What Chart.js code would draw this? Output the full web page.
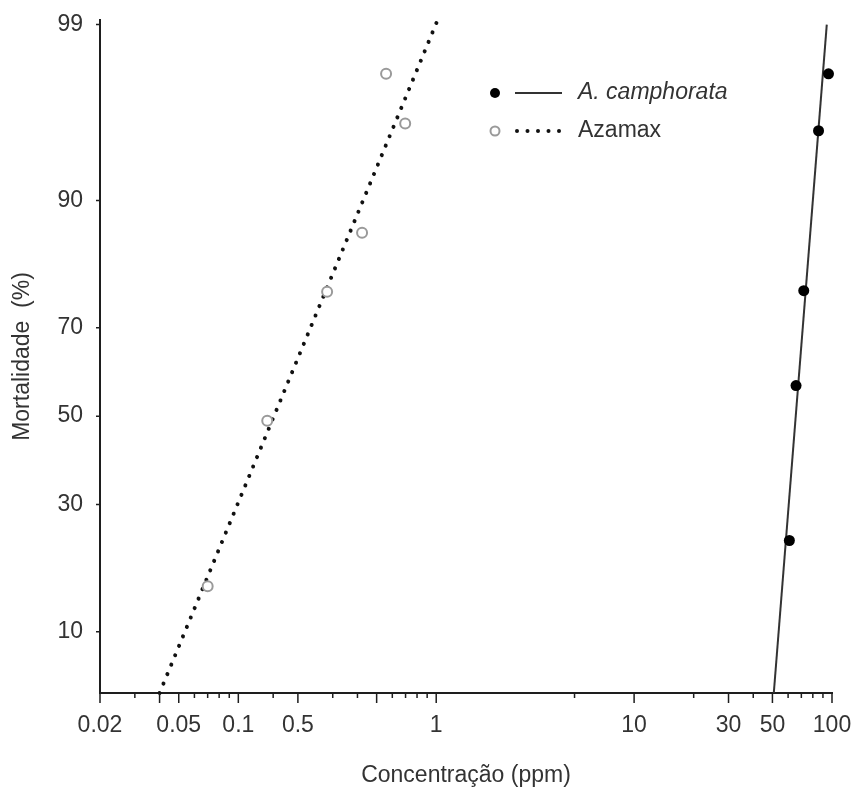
<!DOCTYPE html>
<html>
<head>
<meta charset="utf-8">
<script src="https://cdn.jsdelivr.net/npm/chart.js@4.4.1/dist/chart.umd.min.js"></script>
<style>
  html, body { margin: 0; padding: 0; background: #ffffff; }
  #wrap { width: 855px; height: 792px; }
</style>
</head>
<body>
<div id="wrap"><canvas id="c" width="855" height="792"></canvas></div>
<script>
// ---- data ----
const seriesNames = ['A. camphorata', 'Azamax'];

const camphorataConc = [60.9, 65.8, 72.0, 85.5, 96.0];       // ppm
const camphorataMort = [23.0, 57.2, 77.2, 95.5, 97.9];       // %
const camphorataFitConc = [50.8, 94.1];
const camphorataFitMort = [5, 99];

const azamaxConc = [0.070, 0.140, 0.281, 0.422, 0.558, 0.697]; // ppm
const azamaxMort = [15.6, 48.9, 77.0, 86.2, 97.9, 95.9];       // %
const azamaxFitConc = [0.040, 1.01];
const azamaxFitMort = [5, 99.05];

// axis ticks
const xTickValues = [0.02, 0.05, 0.1, 0.2, 1, 10, 30, 50, 100];
const xTickLabels = ['0.02', '0.05', '0.1', '0.5', '1', '10', '30', '50', '100'];
const xMajorMarks = [0.02, 0.04, 0.05, 0.1, 0.2, 0.5, 1, 10, 30, 50, 100];
const xMinorMarks = [0.03, 0.06, 0.07, 0.08, 0.09, 0.15, 0.3, 0.4, 0.6, 0.7, 0.8, 0.9, 5, 20, 40, 60, 70, 80, 90];
const yTickPct = [10, 30, 50, 70, 90, 99];
const yTickLabels = ['10', '30', '50', '70', '90', '99'];
const xRange = [0.02, 100];
const yRangePct = [5, 99.07];

// ---- probit transform (inverse normal CDF) ----
function probit(pct) {
  const p = pct / 100;
  const a = [-3.969683028665376e+01, 2.209460984245205e+02, -2.759285104469687e+02, 1.383577518672690e+02, -3.066479806614716e+01, 2.506628277459239e+00];
  const b = [-5.447609879822406e+01, 1.615858368580409e+02, -1.556989798598866e+02, 6.680131188771972e+01, -1.328068155288572e+01];
  const c = [-7.784894002430293e-03, -3.223964580411365e-01, -2.400758277161838e+00, -2.549671055224493e+00, 4.374664141464968e+00, 2.938163982698783e+00];
  const d = [7.784695709041462e-03, 3.224671290700398e-01, 2.445134137142996e+00, 3.754408661907416e+00];
  const plow = 0.02425, phigh = 1 - plow;
  let q, r;
  if (p < plow) {
    q = Math.sqrt(-2 * Math.log(p));
    return (((((c[0]*q+c[1])*q+c[2])*q+c[3])*q+c[4])*q+c[5]) / ((((d[0]*q+d[1])*q+d[2])*q+d[3])*q+1);
  } else if (p <= phigh) {
    q = p - 0.5; r = q*q;
    return (((((a[0]*r+a[1])*r+a[2])*r+a[3])*r+a[4])*r+a[5])*q / (((((b[0]*r+b[1])*r+b[2])*r+b[3])*r+b[4])*r+1);
  } else {
    q = Math.sqrt(-2 * Math.log(1 - p));
    return -(((((c[0]*q+c[1])*q+c[2])*q+c[3])*q+c[4])*q+c[5]) / ((((d[0]*q+d[1])*q+d[2])*q+d[3])*q+1);
  }
}
const toPts = (xs, ys) => xs.map((x, i) => ({ x: x, y: probit(ys[i]) }));

const FONT = 'Liberation Sans, Arial, Helvetica, sans-serif';
const TEXT = '#333333';
const AXIS = '#1e1e1e';

function clearPad(s) { s.paddingLeft = 0; s.paddingRight = 0; s.paddingTop = 0; s.paddingBottom = 0; }

// ---- plugin: tick marks and in-plot legend ----
const decorPlugin = {
  id: 'decor',
  afterDraw(chart) {
    const ctx = chart.ctx;
    const xs = chart.scales.x, ys = chart.scales.y;
    const axisY = chart.chartArea.bottom;
    const axisX = chart.chartArea.left;
    ctx.save();
    ctx.strokeStyle = AXIS;
    ctx.lineWidth = 1.5;
    ctx.beginPath();
    xMajorMarks.forEach(v => { const p = xs.getPixelForValue(v); ctx.moveTo(p, axisY); ctx.lineTo(p, axisY + 10); });
    xMinorMarks.forEach(v => { const p = xs.getPixelForValue(v); ctx.moveTo(p, axisY); ctx.lineTo(p, axisY + 5); });
    yTickPct.forEach(v => { const p = ys.getPixelForValue(probit(v)); ctx.moveTo(axisX - 4, p); ctx.lineTo(axisX, p); });
    ctx.stroke();

    // legend
    const lx = 495, y1 = 93, y2 = 131;
    ctx.fillStyle = '#000';
    ctx.beginPath(); ctx.arc(lx, y1, 5, 0, Math.PI * 2); ctx.fill();
    ctx.strokeStyle = '#333'; ctx.lineWidth = 2;
    ctx.beginPath(); ctx.moveTo(515, y1); ctx.lineTo(562, y1); ctx.stroke();
    ctx.fillStyle = '#fff'; ctx.strokeStyle = '#9a9a9a'; ctx.lineWidth = 2;
    ctx.beginPath(); ctx.arc(lx, y2, 4.5, 0, Math.PI * 2); ctx.fill(); ctx.stroke();
    ctx.fillStyle = '#111';
    for (let k = 0; k < 5; k++) { ctx.beginPath(); ctx.arc(517 + k * 10.5, y2, 2, 0, Math.PI * 2); ctx.fill(); }
    ctx.fillStyle = TEXT;
    ctx.textBaseline = 'middle';
    ctx.textAlign = 'left';
    ctx.font = 'italic 23px ' + FONT;
    ctx.fillText(seriesNames[0], 578, y1);
    ctx.font = '23px ' + FONT;
    ctx.fillText(seriesNames[1], 578, y2);
    ctx.restore();
  }
};

new Chart(document.getElementById('c'), {
  type: 'scatter',
  data: {
    datasets: [
      {
        label: seriesNames[1] + ' fit', type: 'line', data: toPts(azamaxFitConc, azamaxFitMort),
        borderColor: '#111', borderWidth: 4, borderDash: [0.01, 10.2], borderCapStyle: 'round',
        pointRadius: 0, fill: false, tension: 0, order: 3, clip: false
      },
      {
        label: seriesNames[0] + ' fit', type: 'line', data: toPts(camphorataFitConc, camphorataFitMort),
        borderColor: '#333', borderWidth: 2, pointRadius: 0, fill: false, tension: 0, order: 3, clip: false
      },
      {
        label: seriesNames[1], data: toPts(azamaxConc, azamaxMort), showLine: false, clip: false,
        pointRadius: 5, pointBackgroundColor: '#ffffff', pointBorderColor: '#9a9a9a', pointBorderWidth: 2, order: 1
      },
      {
        label: seriesNames[0], data: toPts(camphorataConc, camphorataMort), showLine: false, clip: false,
        pointRadius: 5.5, pointBackgroundColor: '#000', pointBorderColor: '#000', pointBorderWidth: 0, order: 1
      }
    ]
  },
  options: {
    responsive: false,
    animation: false,
    layout: { padding: { left: 0, right: 23, top: 20, bottom: 0 } },
    plugins: { legend: { display: false }, tooltip: { enabled: false } },
    scales: {
      x: {
        type: 'logarithmic',
        min: xRange[0], max: xRange[1],
        afterBuildTicks: (s) => { s.ticks = xTickValues.map(v => ({ value: v })); },
        afterFit: (s) => { s.height = 99; clearPad(s); },
        ticks: {
          autoSkip: false, maxRotation: 0, minRotation: 0, padding: 19,
          color: TEXT, font: { family: FONT, size: 23 },
          callback: (v, i) => xTickLabels[i]
        },
        grid: { display: false, drawTicks: false },
        border: { display: true, color: AXIS, width: 2 },
        title: { display: true, text: 'Concentração (ppm)', color: TEXT, font: { family: FONT, size: 23 }, padding: { top: 0, bottom: 3 } }
      },
      y: {
        type: 'linear',
        min: probit(yRangePct[0]), max: probit(yRangePct[1]),
        afterBuildTicks: (s) => { s.ticks = yTickPct.map(v => ({ value: probit(v) })); },
        afterFit: (s) => { s.width = 100; clearPad(s); },
        ticks: {
          autoSkip: false, padding: 17,
          color: TEXT, font: { family: FONT, size: 23 },
          callback: (v, i) => yTickLabels[i]
        },
        grid: { display: false, drawTicks: false },
        border: { display: true, color: AXIS, width: 2 },
        title: { display: true, text: 'Mortalidade  (%)', color: TEXT, font: { family: FONT, size: 23 }, padding: { top: 9, bottom: 0 } }
      }
    }
  },
  plugins: [decorPlugin]
});
</script>
</body>
</html>
